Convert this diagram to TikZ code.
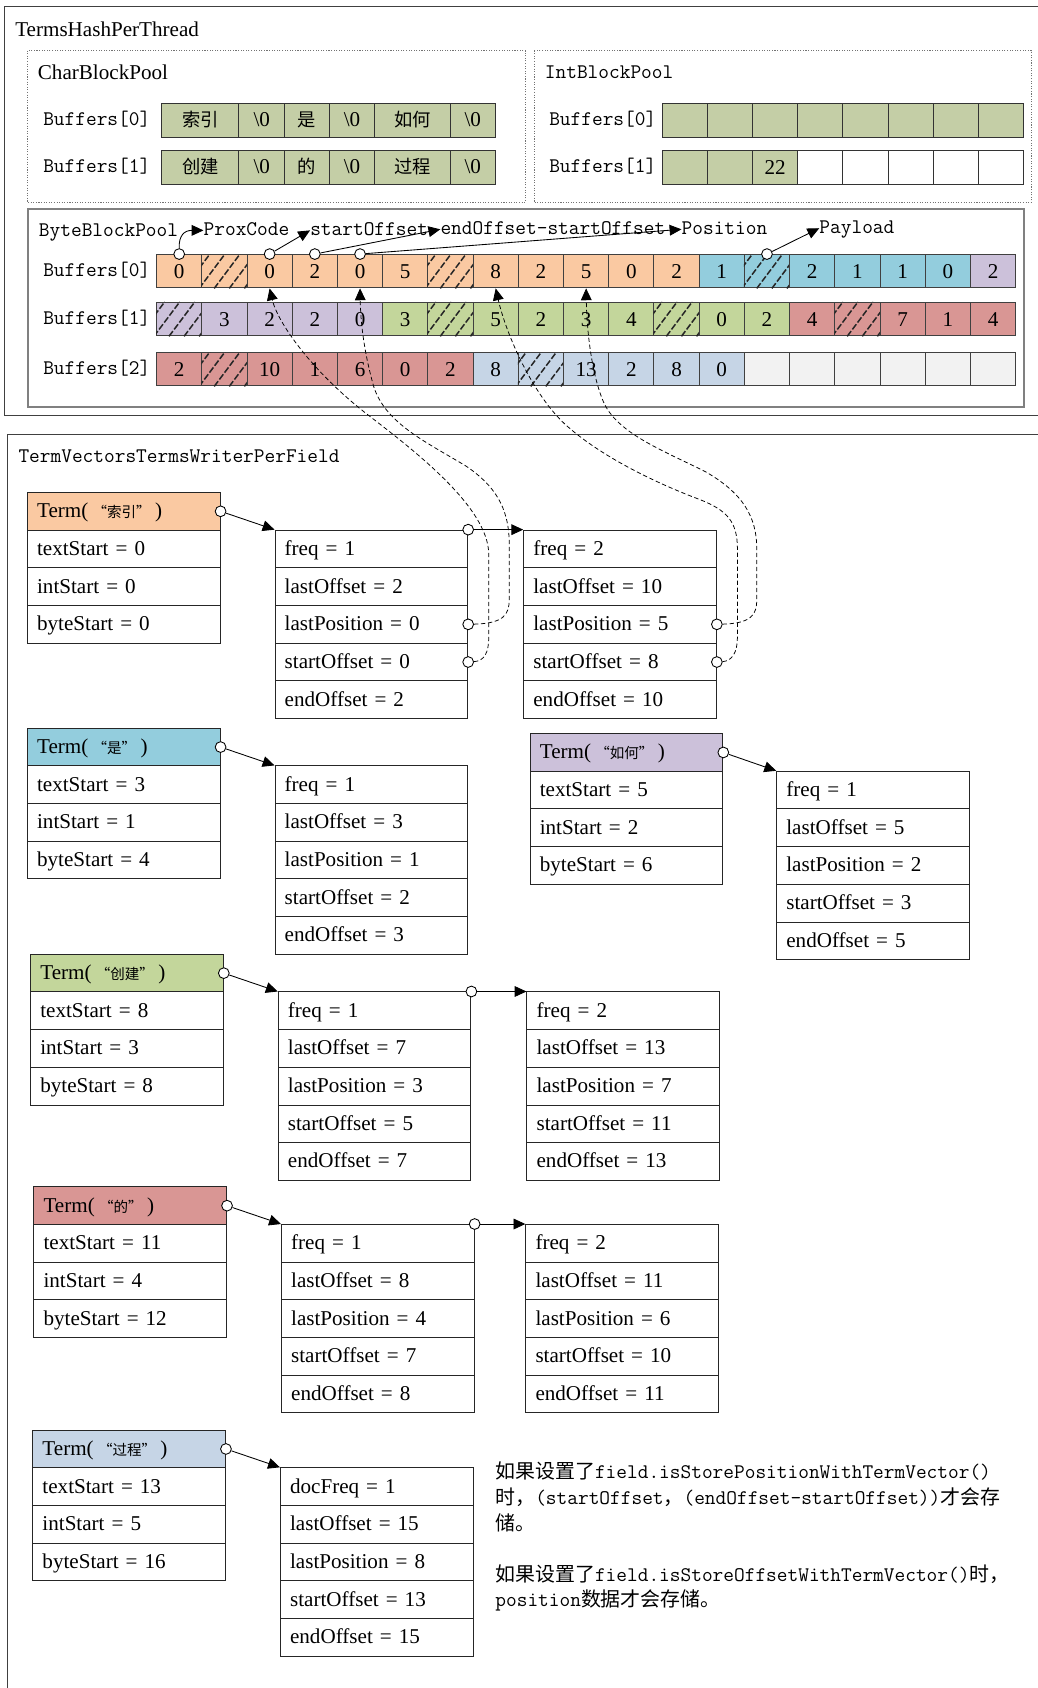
\documentclass[tikz,border=0pt]{standalone}
\usepackage{fontspec}
\setmainfont{Liberation Serif}
\newfontfamily\cjkfont{Noto Sans CJK SC}
\usetikzlibrary{arrows.meta}

\definecolor{cor}{HTML}{FAC9A2}
\definecolor{ccy}{HTML}{93CDDD}
\definecolor{cpu}{HTML}{CCC1DA}
\definecolor{cgr}{HTML}{C3D69B}
\definecolor{crd}{HTML}{D99694}
\definecolor{cbl}{HTML}{C6D5E6}
\definecolor{cem}{HTML}{F2F2F2}
\definecolor{col}{HTML}{C4CEA6}

\newcommand\srf{\fontsize{19.6}{23.5}\selectfont}
\newcommand\mnf{\ttfamily\fontsize{19.3}{24}\selectfont}
\newcommand\hz[1]{\hspace{4pt}{\cjkfont\fontsize{13.5}{14}\selectfont #1}\hspace{4pt}}
\newcommand\zc[1]{{\cjkfont\fontsize{17}{20}\selectfont #1}}
\newcommand\zt[1]{{\cjkfont\fontsize{18.5}{24}\selectfont #1}}

% a term record: header plus three rows, with a port on the header
\newcommand\termbox[8]{%
  \node[trow, fill=#4] (#1-h) at (#2,#3) {#5};
  \node[trow] (#1-1) at (#2,#3+35) {#6};
  \node[trow] (#1-2) at (#2,#3+70) {#7};
  \node[trow] (#1-3) at (#2,#3+105) {#8};
  \node[port] (#1-p) at (#1-h.east) {};}

% a five-row posting record
\newcommand\statbox[8]{%
  \node[trow] (#1-1) at (#2,#3) {#4};
  \node[trow] (#1-2) at (#2,#3+35) {#5};
  \node[trow] (#1-3) at (#2,#3+70) {#6};
  \node[trow] (#1-4) at (#2,#3+105) {#7};
  \node[trow] (#1-5) at (#2,#3+140) {#8};}

% diagonal dashed hatching inside a cell
\newcommand\hatchcell[1]{%
  \begin{scope}
    \clip (#1.south west) rectangle (#1.north east);
    \foreach \k in {-1,...,3}
      \draw[hatchln] ([xshift=\k*14pt-2pt]#1.south west) -- ++(24,-32);
  \end{scope}}

\begin{document}
\begin{tikzpicture}[x=1pt,y=-1pt,
  frame/.style={draw=black!75, line width=1pt},
  dotbox/.style={draw=black!55, line width=0.8pt, dash pattern=on 1pt off 1.4pt},
  bytebox/.style={draw=black!50, line width=1.5pt},
  slbl/.style={anchor=west, inner sep=0pt, font=\srf, text height=14pt, text depth=4pt},
  mlbl/.style={anchor=west, inner sep=0pt, font=\mnf, text height=13pt, text depth=3pt},
  ccell/.style={draw=black!80, line width=0.9pt, fill=col, anchor=north west,
    minimum height=31pt, inner sep=0pt, font=\srf, text height=13pt, text depth=1pt},
  icell/.style={draw=black!80, line width=0.9pt, anchor=north west,
    minimum width=42pt, minimum height=31.5pt, inner sep=0pt, font=\srf, text height=13pt, text depth=1pt},
  bcell/.style={draw=black!75, line width=0.9pt, anchor=north west,
    minimum width=42pt, minimum height=31pt, inner sep=0pt, font=\srf, text height=13pt, text depth=0pt},
  hatchln/.style={draw=black!85, line width=1.4pt, dash pattern=on 6pt off 2pt},
  trow/.style={draw=black!85, line width=0.9pt, anchor=north west, minimum height=35pt,
    text width=161pt, inner xsep=9pt, inner ysep=0pt, text height=16pt, text depth=4pt,
    align=left, font=\srf},
  port/.style={circle, draw=black, fill=white, line width=0.8pt, inner sep=0pt, minimum size=10pt},
  arr/.style={line width=0.8pt, -{Triangle[length=11pt,width=10pt]}},
  dcurve/.style={line width=0.7pt, dash pattern=on 4pt off 2.5pt, -{Triangle[length=11pt,width=10pt]}}]

\fill[white] (0,0) rectangle (964,1568);
\useasboundingbox (0,0) rectangle (964,1568);

%---------------- TermsHashPerThread ----------------
\draw[frame] (4,6) rectangle (968,386);
\node[slbl] (hashLbl) at (14,29) {TermsHashPerThread};

% CharBlockPool
\draw[dotbox] (25.5,47) rectangle (488,188);
\node[slbl] (charLbl) at (35,69) {CharBlockPool};
\node[mlbl] (cb0) at (40,111.5) {Buffers[0]};
\node[mlbl] (cb1) at (40,155.5) {Buffers[1]};
\foreach \cx/\cw/\ct [count=\i from 0] in {150/71.5/\zc{索引}, 221.5/42.5/\textbackslash 0,
    264/41.5/\zc{是}, 305.5/42/\textbackslash 0, 347.5/70.5/\zc{如何}, 418/41.5/\textbackslash 0}
  \node[ccell, minimum width=\cw*1pt] (c0-\i) at (\cx,96) {\ct};
\foreach \cx/\cw/\ct [count=\i from 0] in {150/71.5/\zc{创建}, 221.5/42.5/\textbackslash 0,
    264/41.5/\zc{的}, 305.5/42/\textbackslash 0, 347.5/70.5/\zc{过程}, 418/41.5/\textbackslash 0}
  \node[ccell, minimum width=\cw*1pt] (c1-\i) at (\cx,139.5) {\ct};

% IntBlockPool
\draw[dotbox] (496,47) rectangle (958,188);
\node[mlbl] (intLbl) at (506,68) {IntBlockPool};
\node[mlbl] (ib0) at (510,111.5) {Buffers[0]};
\node[mlbl] (ib1) at (510,155.5) {Buffers[1]};
\foreach \i in {0,...,7}
  \node[icell, fill=col] (i0-\i) at (614.5+42*\i,95.5) {};
\foreach \i in {0,...,7}{
  \ifnum\i<3 \def\ifl{col}\else\def\ifl{white}\fi
  \node[icell, fill=\ifl] (i1-\i) at (614.5+42*\i,139.5) {\ifnum\i=2 22\fi};}

% ByteBlockPool
\draw[bytebox] (26,194) rectangle (951,378);
\node[mlbl] (byteLbl) at (36,215) {ByteBlockPool};
\node[mlbl] (bb0) at (40,252) {Buffers[0]};
\node[mlbl] (bb1) at (40,296) {Buffers[1]};
\node[mlbl] (bb2) at (40,343) {Buffers[2]};

\foreach \bc/\bt/\bh [count=\i from 0] in {or/0/0, or//1, or/0/0, or/2/0, or/0/0, or/5/0, or//1,
    or/8/0, or/2/0, or/5/0, or/0/0, or/2/0, cy/1/0, cy//1, cy/2/0, cy/1/0, cy/1/0, cy/0/0, pu/2/0}{
  \node[bcell, fill=c\bc] (b0-\i) at (145+42*\i,236) {\bt};
  \ifnum\bh=1 \hatchcell{b0-\i}\fi}
\foreach \bc/\bt/\bh [count=\i from 0] in {pu//1, pu/3/0, pu/2/0, pu/2/0, pu/0/0, gr/3/0, gr//1,
    gr/5/0, gr/2/0, gr/3/0, gr/4/0, gr//1, gr/0/0, gr/2/0, rd/4/0, rd//1, rd/7/0, rd/1/0, rd/4/0}{
  \node[bcell, fill=c\bc] (b1-\i) at (145+42*\i,280.5) {\bt};
  \ifnum\bh=1 \hatchcell{b1-\i}\fi}
\foreach \bc/\bt/\bh [count=\i from 0] in {rd/2/0, rd//1, rd/10/0, rd/1/0, rd/6/0, rd/0/0, rd/2/0,
    bl/8/0, bl//1, bl/13/0, bl/2/0, bl/8/0, bl/0/0, em//0, em//0, em//0, em//0, em//0, em//0}{
  \node[bcell, fill=c\bc] (b2-\i) at (145+42*\i,327) {\bt};
  \ifnum\bh=1 \hatchcell{b2-\i}\fi}

% field labels above the byte slices
\node[mlbl] (proxLbl) at (189,214) {ProxCode};
\node[mlbl] (startLbl) at (288,214) {startOffset};
\node[mlbl] (lenLbl) at (409,213) {endOffset-startOffset};
\node[mlbl] (posLbl) at (633,213) {Position};
\node[mlbl] (payLbl) at (761,212) {Payload};

\node[port] (q0) at (b0-0.north) {};
\node[port] (q2) at (b0-2.north) {};
\node[port] (q3) at (b0-3.north) {};
\node[port] (q4) at (b0-4.north) {};
\node[port] (q13) at (b0-13.north) {};

\draw[arr] (q0.north) .. controls (166,219) and (171,214) .. (proxLbl.west);
\draw[arr] (q2) -- (startLbl.west);
\draw[arr] (q3) -- (lenLbl.west);
\draw[arr] (q4) -- (posLbl.west);
\draw[arr] (q13) -- (payLbl.west);

%---------------- TermVectorsTermsWriterPerField ----------------
\draw[frame] (7,404) rectangle (968,1580);
\node[mlbl] (tvLbl) at (17,425) {TermVectorsTermsWriterPerField};

\termbox{T1}{25}{457}{cor}{Term(\hz{“索引”})}{textStart = 0}{intStart = 0}{byteStart = 0}
\statbox{B1a}{255}{492}{freq = 1}{lastOffset = 2}{lastPosition = 0}{startOffset = 0}{endOffset = 2}
\statbox{B1b}{486}{492}{freq = 2}{lastOffset = 10}{lastPosition = 5}{startOffset = 8}{endOffset = 10}

\termbox{T2}{25}{676}{ccy}{Term(\hz{“是”})}{textStart = 3}{intStart = 1}{byteStart = 4}
\statbox{B2a}{255}{711}{freq = 1}{lastOffset = 3}{lastPosition = 1}{startOffset = 2}{endOffset = 3}

\termbox{T3}{492}{681}{cpu}{Term(\hz{“如何”})}{textStart = 5}{intStart = 2}{byteStart = 6}
\statbox{B3a}{721}{716}{freq = 1}{lastOffset = 5}{lastPosition = 2}{startOffset = 3}{endOffset = 5}

\termbox{T4}{28}{886}{cgr}{Term(\hz{“创建”})}{textStart = 8}{intStart = 3}{byteStart = 8}
\statbox{B4a}{258}{921}{freq = 1}{lastOffset = 7}{lastPosition = 3}{startOffset = 5}{endOffset = 7}
\statbox{B4b}{489}{921}{freq = 2}{lastOffset = 13}{lastPosition = 7}{startOffset = 11}{endOffset = 13}

\termbox{T5}{31}{1102}{crd}{Term(\hz{“的”})}{textStart = 11}{intStart = 4}{byteStart = 12}
\statbox{B5a}{261}{1137}{freq = 1}{lastOffset = 8}{lastPosition = 4}{startOffset = 7}{endOffset = 8}
\statbox{B5b}{488}{1137}{freq = 2}{lastOffset = 11}{lastPosition = 6}{startOffset = 10}{endOffset = 11}

\termbox{T6}{30}{1328}{cbl}{Term(\hz{“过程”})}{textStart = 13}{intStart = 5}{byteStart = 16}
\statbox{B6a}{260}{1363}{docFreq = 1}{lastOffset = 15}{lastPosition = 8}{startOffset = 13}{endOffset = 15}

\node[anchor=north west, inner sep=0pt, align=left, font=\mnf] (note) at (460,1358) {%
\zt{如果设置了}field.isStorePositionWithTermVector()\\
\zt{时，}(startOffset\zt{，}(endOffset-startOffset))\zt{才会存}\\
\zt{储。}\\[23pt]
\zt{如果设置了}field.isStoreOffsetWithTermVector()\zt{时，}\\
position\zt{数据才会存储。}};

% ports on the posting records
\node[port] (B1a-t) at (B1a-1.north east) {};
\node[port] (B4a-t) at (B4a-1.north east) {};
\node[port] (B5a-t) at (B5a-1.north east) {};
\node[port] (B1a-l) at (B1a-3.east) {};
\node[port] (B1a-s) at (B1a-4.east) {};
\node[port] (B1b-l) at (B1b-3.east) {};
\node[port] (B1b-s) at (B1b-4.east) {};

% links between records
\draw[arr] (T1-p) -- (B1a-1.north west);
\draw[arr] (B1a-t) -- (B1b-1.north west);
\draw[arr] (T2-p) -- (B2a-1.north west);
\draw[arr] (T3-p) -- (B3a-1.north west);
\draw[arr] (T4-p) -- (B4a-1.north west);
\draw[arr] (B4a-t) -- (B4b-1.north west);
\draw[arr] (T5-p) -- (B5a-1.north west);
\draw[arr] (B5a-t) -- (B5b-1.north west);
\draw[arr] (T6-p) -- (B6a-1.north west);

% pointers from the records back into the byte slices
\draw[dcurve] (B1a-s) .. controls (450,614) and (454,606) .. (454,592) -- (454,515)
  .. controls (454,470) and (380,415) .. (340,384)
  .. controls (290,345) and (258,300) .. (b0-2.south);
\draw[dcurve] (B1a-l) .. controls (468,579) and (473,571) .. (473,557) -- (473,505)
  .. controls (473,470) and (458,450) .. (433,433)
  .. controls (395,410) and (355,392) .. (346,355)
  .. controls (338,325) and (335,300) .. (b0-4.south);
\draw[dcurve] (B1b-s) .. controls (680,614) and (685,606) .. (685,592) -- (685,510)
  .. controls (685,484) and (675,474) .. (650,464)
  .. controls (610,449) and (560,425) .. (527,396)
  .. controls (495,368) and (470,310) .. (b0-7.south);
\draw[dcurve] (B1b-l) .. controls (698,579) and (703,571) .. (703,557) -- (703,510)
  .. controls (703,480) and (690,458) .. (655,438)
  .. controls (615,418) and (572,402) .. (560,372)
  .. controls (549,345) and (545,305) .. (b0-9.south);
\end{tikzpicture}
\end{document}
